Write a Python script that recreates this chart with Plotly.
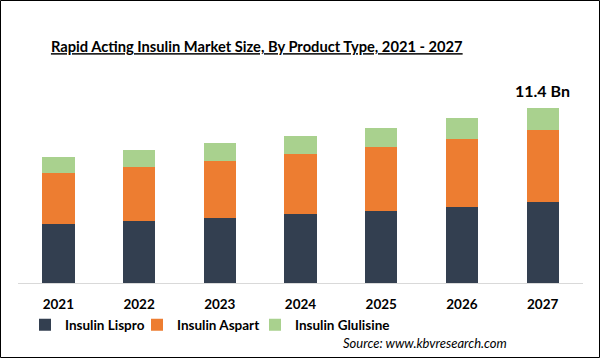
import plotly.graph_objects as go

years = ["2021", "2022", "2023", "2024", "2025", "2026", "2027"]
lispro = [3.84, 4.04, 4.23, 4.50, 4.69, 4.95, 5.28]
aspart = [3.32, 3.52, 3.71, 3.91, 4.17, 4.43, 4.69]
glulisine = [1.04, 1.11, 1.17, 1.17, 1.24, 1.37, 1.43]
series_names = ["Insulin Lispro", "Insulin Aspart", "Insulin Glulisine"]
colors = ["#333F50", "#ED7D31", "#A9D18E"]
last_label = "11.4 Bn"

FONT = "Lato"
W, H = 601, 361
ML, MR, MT, MB = 18, 18, 80, 78
PW, PH = W - ML - MR, H - MT - MB
legend_ids = ["legend", "legend2", "legend3"]
legend_text_px = [65, 177, 295]

fig = go.Figure()
for name, vals, col, lg in zip(series_names, [lispro, aspart, glulisine], colors, legend_ids):
    fig.add_trace(go.Bar(x=years, y=vals, name=name, marker_color=col,
                         marker_line_width=0, legend=lg))

total_last = lispro[-1] + aspart[-1] + glulisine[-1]
fig.add_annotation(x=len(years) - 1, y=total_last, text="<b>" + last_label + "</b>",
                   showarrow=False, yanchor="middle", yshift=18,
                   font=dict(family=FONT, size=16, color="#000000"))

fig.add_annotation(xref="paper", yref="paper",
                   x=(509 - ML) / PW, y=(H - MB - 343) / PH,
                   xanchor="right", yanchor="middle",
                   text="<i>Source: www.kbvresearch.com</i>", showarrow=False,
                   font=dict(family=FONT, size=13, color="#000000"))

# outer border
fig.add_shape(type="rect", xref="paper", yref="paper",
              x0=(0.5 - ML) / PW, x1=(599.5 - ML) / PW,
              y0=(H - MB - 357.5) / PH, y1=(H - MB - 0.5) / PH,
              line=dict(color="#000000", width=1), fillcolor="rgba(0,0,0,0)")

legend_font = dict(family=FONT, size=13.5, color="#000000", weight="bold")
legends = {}
for lg, tx in zip(legend_ids, legend_text_px):
    legends[lg] = dict(orientation="h", x=(tx - 40 - ML) / PW, xanchor="left",
                       y=(H - MB - 325) / PH, yanchor="middle",
                       font=legend_font, bgcolor="rgba(0,0,0,0)")

fig.update_layout(
    width=W, height=H,
    margin=dict(l=ML, r=MR, t=MT, b=MB, autoexpand=False),
    barmode="stack", bargap=0.6,
    plot_bgcolor="white", paper_bgcolor="white",
    title=dict(text="<b><u>Rapid Acting Insulin Market Size, By Product Type, 2021 - 2027</u></b>",
               x=254 / W, xanchor="center", y=1 - 47 / H, yanchor="middle",
               xref="paper", yref="container",
               font=dict(family=FONT, size=14.7, color="#000000")),
    xaxis=dict(type="category", showline=True, linecolor="#D9D9D9", linewidth=1,
               ticks="", showgrid=False, ticklabelstandoff=9,
               tickfont=dict(family=FONT, size=13.5, color="#000000", weight="bold")),
    yaxis=dict(visible=False, range=[0, PH / 15.35], showgrid=False),
    showlegend=True,
    **legends,
)
fig.write_html("out.html", config={"displayModeBar": False},
               post_script="document.body.style.margin='0';document.body.style.padding='0';")
